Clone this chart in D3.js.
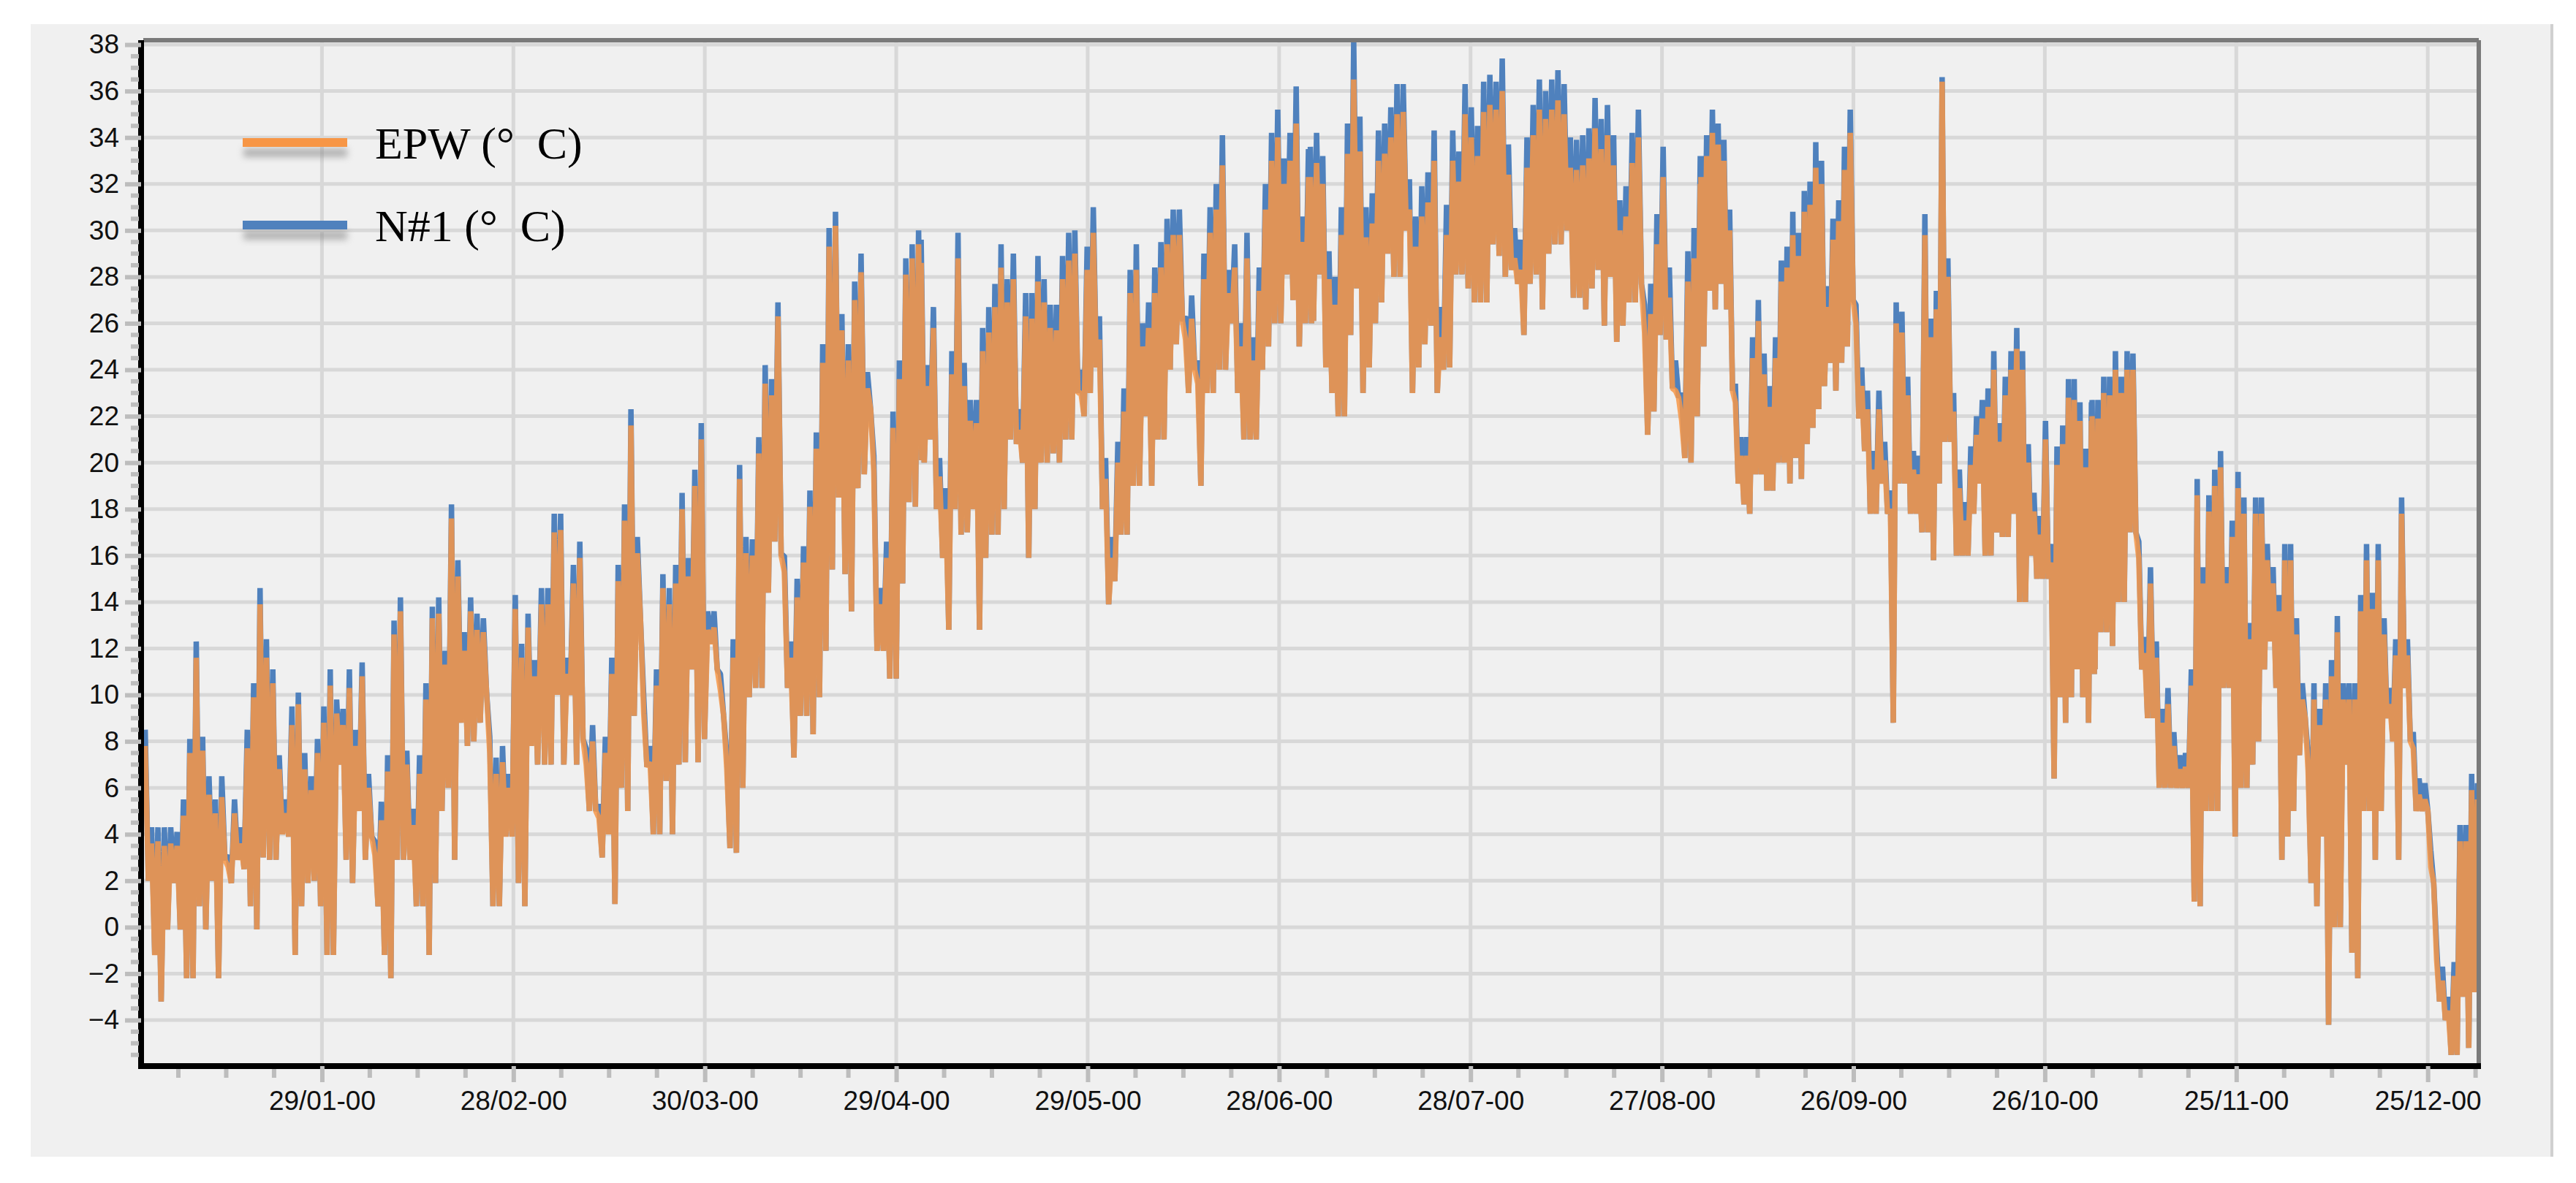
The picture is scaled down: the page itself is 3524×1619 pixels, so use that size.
<!DOCTYPE html>
<html><head><meta charset="utf-8">
<script src="https://cdn.jsdelivr.net/npm/d3@7"></script>
<style>html,body{margin:0;padding:0;background:#fff;}</style>
</head><body>
<svg id="c" width="3524" height="1619"></svg>
<script>
// ---- Data (daily peak / trough readings, °C), in six chronological blocks ----
const segmentSpans = [[0.3,61.3],[62.4,121.5],[121.9,182.6],[182.9,244.0],[244.1,305.3],[305.4,365.8]];

const n1Max1 = [8.5,4.3,4.3,4.3,4.3,4.1,5.5,8.1,12.3,8.2,6.5,5.5,6.5,3.1,5.5,4.3,8.5,10.5,14.6,12.4,11.1,7.4,5.5,9.5,10.1,7.5,6.5,8.1,9.5,11.1,9.8,9.4,11.1,8.5,11.4,6.6,3.7,5.4,7.4,13.2,14.2,7.6,5.1,7.4,10.5,13.8,14.2,11.9,18.2,15.8,12.7,14.2,13.5,13.3,8.2,7.3,7.8,6.6,14.3,12.2,13.5,11.5];
const epwMax1 = [7.8,3.6,3.7,3.5,3.6,3.5,4.8,7.5,11.6,7.6,5.7,4.9,5.6,2.6,4.9,3.6,7.7,9.9,13.9,11.6,10.5,6.8,4.9,8.7,9.6,6.8,5.9,7.5,8.8,10.4,9.2,8.7,10.3,7.8,10.8,6.0,3.1,4.6,6.7,12.6,13.6,7.0,4.4,6.6,9.8,13.3,13.5,11.3,17.6,15.1,11.9,13.6,12.8,12.7,7.5,6.6,7.1,6.0,13.7,11.6,12.9,10.8];
const epwMin1 = [2,-1.2,-3.2,-0.1,1.9,-0.1,-2.2,-2.2,0.9,-0.1,2,-2.2,2.9,1.9,2.9,2.5,0.9,-0.1,3,2.9,2.9,4,3.9,-1.2,0.9,1.9,2,0.9,-1.2,-1.2,7,2.9,1.9,5,2.9,3.9,0.9,-1.2,-2.2,2.9,2.9,2.9,0.9,0.9,-1.2,1.9,5,6,2.9,8.8,7.8,8,8.8,10.1,0.9,0.9,3.9,3.9,1.9,0.9,7.8,7];

const n1Max2 = [14.6,14.6,17.8,17.8,11.6,15.6,16.6,7.7,8.7,5.3,8.2,11.6,15.6,18.2,22.3,16.8,9.9,7.8,11.1,15.2,14.6,15.6,18.7,15.9,19.7,21.7,13.6,13.6,10.9,7.4,12.4,19.9,16.8,16.7,21.1,24.2,23.6,26.9,16.0,12.3,15.0,16.4,18.8,21.3,25.1,30.1,30.8,26.4,25.1,27.8,29.0,23.9,20.3,14.6,16.6,22.2,24.4,28.8,29.4,30.0];
const epwMax2 = [13.9,13.9,17.0,17.1,10.9,14.8,15.9,7.0,8.0,4.7,7.5,10.9,14.9,17.5,21.6,16.1,9.2,7.1,10.4,14.6,13.9,14.8,18.0,15.1,19.0,21.0,12.8,12.9,10.2,6.8,11.6,19.3,16.1,16.0,20.4,23.4,22.9,26.3,15.3,11.6,14.2,15.7,18.1,20.6,24.3,29.3,30.2,25.7,24.4,27.0,28.2,23.2,19.6,13.9,15.9,21.5,23.6,28.1,28.8,29.4];
const epwMin2 = [7.0,7.0,10,7.0,10,7.0,8.1,5.0,5.0,3.0,4.0,1.0,6.0,5.0,9.1,13.2,6.9,4.0,4.0,6.3,4.0,7,7.1,11.1,7.1,8.1,12.2,11.1,9.1,3.4,3.2,6.0,9.9,10.3,10.3,14.4,16.6,16.0,10.3,7.3,9.1,9.1,8.3,9.9,11.9,15.4,18.5,15.2,13.6,18.9,19.5,22.3,11.9,11.9,10.7,10.7,14.8,18.3,18.1,20.1];

const n1Max3 = [29.6,24.2,26.7,20.2,18.9,24.8,29.9,24.3,22.7,22.7,25.8,26.7,27.7,29.4,27.9,29,22.3,27.3,27.3,28.9,27.9,26.8,26.8,28.9,29.9,30,24,29.3,31,26.3,20.2,16.8,20.9,23.2,28.3,29.4,26,26.9,28.4,29.5,30.5,30.9,30.9,26.3,27.2,24.4,29,31,32,34.1,28.3,29.4,26,29.9,25.4,28.4,32,34.2,35.2,33.1,34.2,36.2,30.6,33.5];
const epwMax3 = [28.6,23.3,25.8,19.4,18.0,23.8,28.8,23.3,21.8,21.7,24.8,25.6,26.7,28.4,26.9,27.9,21.4,26.3,26.2,27.8,26.9,25.8,25.7,27.9,28.7,29.0,23.0,28.3,29.9,25.3,19.3,15.9,20.0,22.2,27.3,28.3,25.0,25.8,27.3,28.4,29.4,29.8,29.8,25.3,26.2,23.4,27.9,29.9,30.9,32.8,27.3,28.4,25.0,28.8,24.4,27.4,30.9,33.0,34.0,32.0,33.0,34.6,29.5,32.3];
const epwMin3 = [20,21,18,15.9,12.8,18,16.9,17,18,12.8,15.9,16.9,16.9,18,21,20.8,20,15.9,18,20,20,20.4,20,21,21,23,22,23,24.1,18,13.9,14.9,16.9,16.9,19,19,22,19,21,21,24,25.1,26.1,23,24,19,23,23,24,24,26,23,21,21,21,24,25,26,26,28.1,27,25,26,26];

const n1Max4 = [33.6,34.2,33.2,29.1,28,31,34.6,38.1,34.9,31,31.6,34.3,34.6,35.3,36.3,36.3,32.2,30.6,31.9,32.5,34.3,26.7,31.1,34.3,33.4,36.3,35.3,34.5,36.4,36.7,36.4,37.4,33.7,30.1,29.6,34,35.4,36.5,36,36.5,36.9,36.3,34,33.9,34.1,34.4,35.7,34.8,35.4,34.1,31.3,31.9,34.2,35.2,26.8,27.7,30.7,33.6,28.4,24.4,23,29.1,30.1,33.2];
const epwMax4 = [32.3,32.9,32.0,27.9,26.8,29.8,33.3,36.5,33.4,29.7,30.3,33.0,33.3,34.0,35.0,35.1,30.9,29.3,30.6,31.2,33.0,25.4,29.8,33.0,32.1,35.0,34.0,33.2,35.1,35.4,35.2,36.0,32.4,28.8,28.3,32.7,34.1,35.2,34.8,35.2,35.6,35.0,32.7,32.6,32.8,33.1,34.4,33.5,34.1,32.8,30.0,30.6,32.9,34.0,25.6,26.4,29.4,32.3,27.1,23.1,21.8,27.8,28.8,32.0];
const epwMin4 = [26.1,28.1,24.1,23,22,22,25.5,27.5,23,24.1,26,26.9,29,28,28,30,23,24.1,25.1,25.9,23,24,24.1,28.1,28.1,27.5,26.9,26.9,26.9,29.4,28.9,28,28.3,27.7,25.5,27.7,28.1,26.6,29,29.4,29.4,30,27.1,27.1,26.6,27.5,28.3,25.9,28,25.2,25.9,26.9,26.9,27.7,21.2,22.2,25.5,25.3,23.2,22.8,20.2,20,22,25.1];

const n1Max5 = [33.2,34.1,35.2,34.6,33.9,30.9,23.4,21.1,21.1,25.4,27,24.7,23.3,25.4,28.7,29.3,30.8,29.9,31.7,32.1,33.8,33,27.6,30.5,31.3,33.6,35.2,26.8,24.1,23.1,20.5,23.1,20.9,18.8,26.9,26.5,23.7,20.5,20.3,30.7,26.2,27.4,36.6,28.8,23,19.7,18.3,20.7,22,22.7,23.2,24.8,21.7,23.7,24.8,25.8,24.8,20.8,18.7,17.7,21.8,16.5,20.7,21.6,23.6,23.6,22.6,20.6,22.6];
const epwMax5 = [32.3,33.2,34.2,33.7,33.0,30.0,22.6,20.3,20.3,24.5,26.1,23.8,22.4,24.5,27.8,28.4,29.8,28.9,30.8,31.1,32.7,32.0,26.7,29.6,30.4,32.6,34.2,26.0,23.3,22.3,19.7,22.3,20.1,18.0,26.0,25.6,22.9,19.7,19.5,29.8,25.4,26.6,36.4,28.0,22.2,18.9,17.5,19.9,21.2,21.9,22.4,24.0,20.9,22.9,24.0,24.9,24.0,20.0,17.9,16.9,21.0,15.7,19.9,20.8,22.8,22.7,21.8,19.8,21.8];
const epwMin5 = [25,27.4,26.6,27.7,26.6,23.1,19.1,18.2,17.8,19.5,19.5,18.8,18.8,20,20,19.1,20.2,19.3,20.8,21.5,22.3,23.3,24.3,23.1,24.3,25,27,21.9,20.5,17.8,17.8,19.1,17.8,8.8,19.1,19.1,17.8,17.8,17,17,15.8,19.1,20.9,20.9,16,16,16,17.8,19.1,16,16,17,16.8,16.8,17.8,14,14,16,15,15,15,6.4,9.9,8.8,9.9,11.1,9.9,8.8,10.9];

const n1Max6 = [22.7,22.7,23.7,23.7,24.8,23.7,24.8,24.7,16.6,12.5,15.5,12.3,9.4,10.3,8.4,7.4,7.5,11.1,19.3,15.5,18.6,19.7,20.5,15.5,17.5,19.6,18.5,13.1,18.5,18.5,16.5,15.5,14.3,16.5,16.5,13.3,10.5,7.4,10.5,9.4,10.5,11.5,13.4,10.5,10.5,10.5,14.3,16.5,14.4,16.5,13.3,10.3,12.4,18.5,12.4,8.4,6.4,6.2,3.3,-0.8,-1.7,-3,-1.5,4.4,4.4,6.6,6.2];
const epwMax6 = [22.0,21.9,23.0,22.9,24.0,23.0,24.0,24.0,15.9,11.8,14.8,11.6,8.8,9.6,7.8,6.8,6.9,10.4,18.6,14.8,17.9,19.0,19.8,14.8,16.8,18.9,17.8,12.4,17.8,17.8,15.8,14.8,13.6,15.8,15.8,12.6,9.8,6.7,9.8,8.7,9.8,10.8,12.7,9.8,9.8,9.8,13.6,15.8,13.7,15.8,12.6,9.6,11.7,17.8,11.7,7.7,5.7,5.5,2.6,-1.4,-2.3,-3.6,-2.1,3.7,3.7,5.9,5.5];
const epwMin6 = [11.1,12.7,12.7,12.1,14,14,17,17,11.1,9,9,6,6,6,6,6,6,1.1,0.9,5,5,5,10.3,10.3,3.9,6,6,7,8,11.1,12.3,10.3,2.9,3.9,5,7.4,9,1.9,0.9,3.9,-4.2,0,0,7,-1.1,-2.2,5,5,2.9,5,9,8,2.9,10.3,8,5,5,5,1.9,-3.2,-4,-5.5,-5.5,-3,-5.2,-2.8,1];

const n1MaxBlocks  = [n1Max1,n1Max2,n1Max3,n1Max4,n1Max5,n1Max6];
const epwMaxBlocks = [epwMax1,epwMax2,epwMax3,epwMax4,epwMax5,epwMax6];
const epwMinBlocks = [epwMin1,epwMin2,epwMin3,epwMin4,epwMin5,epwMin6];

const xTickDays   = [28,58,88,118,148,178,208,238,268,298,328,358];
const xTickLabels = ["29/01-00","28/02-00","30/03-00","29/04-00","29/05-00","28/06-00","28/07-00","27/08-00","26/09-00","26/10-00","25/11-00","25/12-00"];
const yTickValues = [-4,-2,0,2,4,6,8,10,12,14,16,18,20,22,24,26,28,30,32,34,36,38];
const seriesNames = ["EPW (°  C)","N#1 (°  C)"];
const seriesColors = ["#F79646","#4F81BD"];

// ---- Layout ----
const svg = d3.select("#c");
const L=196, R=3391, T=55, B=1458;
const x = d3.scaleLinear().domain([0,366]).range([L,R]);
const y = d3.scaleLinear().domain([-5.95,38.19]).range([B,T]);

svg.append("rect").attr("x",0).attr("y",0).attr("width",3524).attr("height",1619).attr("fill","#fff");
svg.append("rect").attr("x",42).attr("y",33).attr("width",3449).attr("height",1550).attr("fill","#F0F0F0");
svg.append("line").attr("x1",3491).attr("x2",3491).attr("y1",33).attr("y2",1583).attr("stroke","#d0d0d0").attr("stroke-width",4);

const g = svg.append("g");
g.selectAll("line.h").data(yTickValues).join("line")
  .attr("x1",L).attr("x2",R).attr("y1",d=>y(d)).attr("y2",d=>y(d))
  .attr("stroke","#D8D8D8").attr("stroke-width",5);
g.selectAll("line.v").data(xTickDays).join("line")
  .attr("x1",d=>x(d)).attr("x2",d=>x(d)).attr("y1",T).attr("y2",B)
  .attr("stroke","#D8D8D8").attr("stroke-width",5);

function buildPoints(maxBlocks, minBlocks){
  const pts=[];
  maxBlocks.forEach((mx,s)=>{
    const mn=minBlocks[s], n=Math.min(mx.length,mn.length);
    const [a,b]=segmentSpans[s], step=(b-a)/(n-1);
    for(let i=0;i<n;i++){
      const t=a+i*step;
      pts.push([t,mx[i]]);
      pts.push([t+step*0.5,mn[i]]);
    }
  });
  return pts;
}
const line = d3.line().x(d=>x(d[0])).y(d=>y(d[1])).curve(d3.curveLinear);
svg.append("clipPath").attr("id","pc").append("rect").attr("x",L).attr("y",T-4).attr("width",R-L).attr("height",B-T+4);
svg.append("path").datum(buildPoints(n1MaxBlocks,epwMinBlocks)).attr("d",line)
  .attr("fill","none").attr("stroke",seriesColors[1]).attr("stroke-width",7.5).attr("stroke-linejoin","bevel").attr("clip-path","url(#pc)");
svg.append("path").datum(buildPoints(epwMaxBlocks,epwMinBlocks)).attr("d",line)
  .attr("fill","none").attr("stroke",seriesColors[0]).attr("stroke-width",7.5).attr("stroke-opacity",0.85).attr("stroke-linejoin","bevel").attr("clip-path","url(#pc)");

svg.append("line").attr("x1",L).attr("x2",R).attr("y1",T).attr("y2",T).attr("stroke","#7a7a7a").attr("stroke-width",6);
svg.append("line").attr("x1",R).attr("x2",R).attr("y1",T).attr("y2",B).attr("stroke","#7a7a7a").attr("stroke-width",6);

const tickFont = "'Liberation Sans Narrow','Liberation Sans',Arial,sans-serif";
const yAxis = d3.axisLeft(y).tickValues(yTickValues).tickSize(22).tickPadding(8).tickFormat(d3.format("d"));
const ya = svg.append("g").attr("transform",`translate(${L-3},0)`).call(yAxis);
ya.select(".domain").attr("stroke","#000").attr("stroke-width",8).attr("d",`M0,${T}V${B}`);
ya.selectAll(".tick line").attr("stroke","#bdbdbd").attr("stroke-width",6);
ya.selectAll("text").attr("font-family",tickFont).attr("font-size",37).attr("fill","#111");
const yMinor = d3.range(-5.5,38.1,0.5).filter(v=>v%2!==0);
svg.append("g").selectAll("line").data(yMinor).join("line")
  .attr("x1",L-17).attr("x2",L-6).attr("y1",d=>y(d)).attr("y2",d=>y(d))
  .attr("stroke","#bdbdbd").attr("stroke-width",6);

const xAxis = d3.axisBottom(x).tickValues(xTickDays).tickSize(22).tickPadding(12).tickFormat((d,i)=>xTickLabels[i]);
const xa = svg.append("g").attr("transform",`translate(0,${B+1})`).call(xAxis);
xa.select(".domain").attr("stroke","#000").attr("stroke-width",8).attr("d",`M${L-7},0H${R+3}`);
xa.selectAll(".tick line").attr("stroke","#bdbdbd").attr("stroke-width",6);
xa.selectAll("text").attr("font-family",tickFont).attr("font-size",37).attr("fill","#111");
const xMinor = d3.range(5.5,366,7.5).filter(v=>!xTickDays.some(t=>Math.abs(t-v)<0.1));
svg.append("g").selectAll("line").data(xMinor).join("line")
  .attr("x1",d=>x(d)).attr("x2",d=>x(d)).attr("y1",B+5).attr("y2",B+17)
  .attr("stroke","#bdbdbd").attr("stroke-width",6);

const defs = svg.append("defs");
const f = defs.append("filter").attr("id","sh").attr("x","-20%").attr("y","-200%").attr("width","140%").attr("height","500%");
f.append("feGaussianBlur").attr("stdDeviation",5);
const leg = svg.append("g");
[195,308].forEach((yy,i)=>{
  leg.append("rect").attr("x",333).attr("y",yy+8).attr("width",142).attr("height",12).attr("fill","#888").attr("opacity",0.6).attr("filter","url(#sh)");
  leg.append("rect").attr("x",332).attr("y",yy-6).attr("width",143).attr("height",12).attr("fill",seriesColors[i]);
  leg.append("text").attr("x",513).attr("y",yy+22).text(seriesNames[i])
    .attr("font-family","'Liberation Serif','Times New Roman',serif").attr("font-size",62).attr("fill","#000").style("white-space","pre");
});
</script>
</body></html>
